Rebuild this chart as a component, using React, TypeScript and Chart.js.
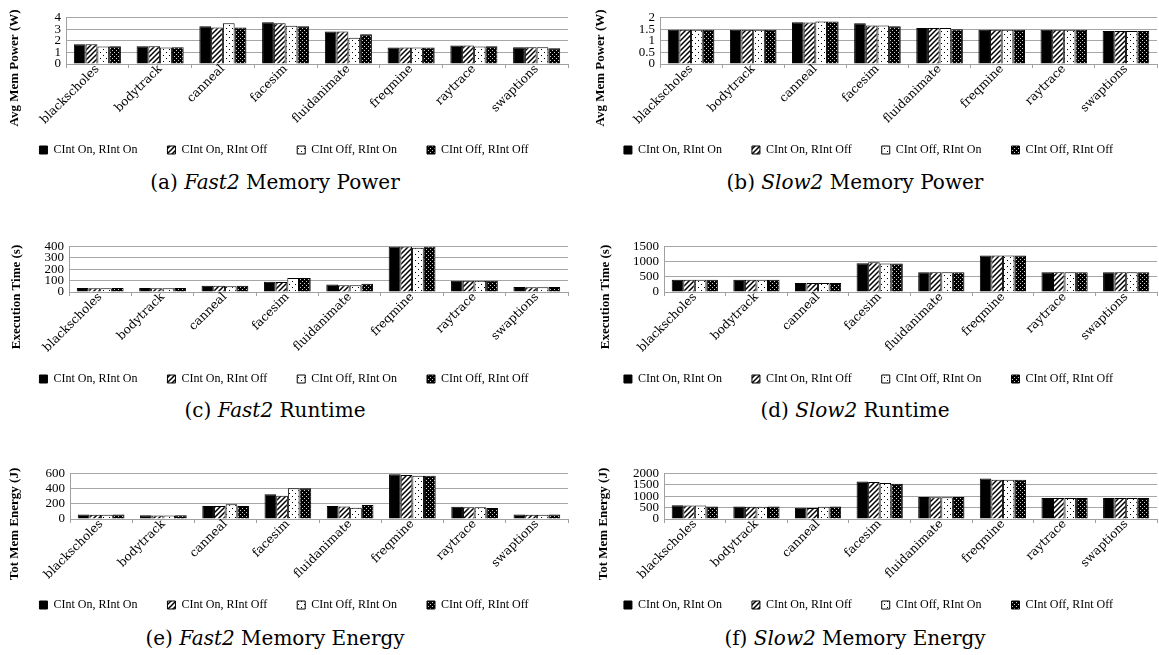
import React, { useEffect, useRef } from "react";
import { Chart, registerables } from "chart.js";
Chart.register(...registerables);

const categories = ["blackscholes", "bodytrack", "canneal", "facesim", "fluidanimate", "freqmine", "raytrace", "swaptions"];
const seriesLabels = ["CInt On, RInt On", "CInt On, RInt Off", "CInt Off, RInt On", "CInt Off, RInt Off"];

// (a) Fast2 Memory Power (W)
const fast2PowerOnOn = [1.7, 1.52, 3.25, 3.6, 2.8, 1.42, 1.6, 1.45];
const fast2PowerOnOff = [1.7, 1.52, 3.15, 3.5, 2.8, 1.42, 1.6, 1.45];
const fast2PowerOffOn = [1.5, 1.42, 3.5, 3.3, 2.25, 1.42, 1.5, 1.45];
const fast2PowerOffOff = [1.52, 1.44, 3.15, 3.25, 2.55, 1.42, 1.52, 1.35];

// (b) Slow2 Memory Power (W)
const slow2PowerOnOn = [1.47, 1.47, 1.8, 1.75, 1.55, 1.47, 1.47, 1.42];
const slow2PowerOnOff = [1.47, 1.47, 1.78, 1.66, 1.55, 1.47, 1.47, 1.42];
const slow2PowerOffOn = [1.47, 1.47, 1.83, 1.66, 1.55, 1.47, 1.47, 1.42];
const slow2PowerOffOff = [1.47, 1.47, 1.83, 1.62, 1.5, 1.47, 1.47, 1.42];

// (c) Fast2 Runtime (s)
const fast2TimeOnOn = [36, 36, 55, 90, 65, 400, 100, 45];
const fast2TimeOnOff = [34, 32, 55, 88, 60, 400, 98, 42];
const fast2TimeOffOn = [34, 32, 50, 122, 60, 390, 98, 42];
const fast2TimeOffOff = [36, 36, 55, 122, 72, 400, 98, 45];

// (d) Slow2 Runtime (s)
const slow2TimeOnOn = [400, 400, 300, 950, 650, 1200, 650, 650];
const slow2TimeOnOff = [400, 400, 300, 980, 650, 1200, 650, 650];
const slow2TimeOffOn = [400, 400, 300, 940, 650, 1200, 650, 650];
const slow2TimeOffOff = [400, 400, 300, 940, 650, 1200, 650, 650];

// (e) Fast2 Memory Energy (J)
const fast2EnergyOnOn = [60, 50, 170, 325, 170, 590, 160, 60];
const fast2EnergyOnOff = [55, 45, 170, 305, 165, 580, 155, 55];
const fast2EnergyOffOn = [55, 45, 195, 405, 150, 570, 155, 55];
const fast2EnergyOffOff = [60, 48, 170, 405, 185, 570, 145, 60];

// (f) Slow2 Memory Energy (J)
const slow2EnergyOnOn = [600, 550, 500, 1650, 970, 1780, 920, 920];
const slow2EnergyOnOff = [590, 540, 480, 1630, 960, 1730, 920, 920];
const slow2EnergyOffOn = [590, 540, 540, 1580, 960, 1730, 920, 920];
const slow2EnergyOffOff = [550, 550, 550, 1550, 970, 1730, 920, 920];

const yTitles = ["Avg Mem Power (W)", "Avg Mem Power (W)", "Execution Time (s)", "Execution Time (s)", "Tot Mem Energy (J)", "Tot Mem Energy (J)"];
const yMaxes = [4, 2, 400, 1500, 600, 2000];
const ySteps = [1, 0.5, 100, 500, 200, 500];
const captionLetters = ["(a)", "(b)", "(c)", "(d)", "(e)", "(f)"];
const captionConfigs = ["Fast2", "Slow2", "Fast2", "Slow2", "Fast2", "Slow2"];
const captionMetrics = ["Memory Power", "Memory Power", "Runtime", "Runtime", "Memory Energy", "Memory Energy"];

const chartSeries = [
  [fast2PowerOnOn, fast2PowerOnOff, fast2PowerOffOn, fast2PowerOffOff],
  [slow2PowerOnOn, slow2PowerOnOff, slow2PowerOffOn, slow2PowerOffOff],
  [fast2TimeOnOn, fast2TimeOnOff, fast2TimeOffOn, fast2TimeOffOff],
  [slow2TimeOnOn, slow2TimeOnOff, slow2TimeOffOn, slow2TimeOffOff],
  [fast2EnergyOnOn, fast2EnergyOnOff, fast2EnergyOffOn, fast2EnergyOffOff],
  [slow2EnergyOnOn, slow2EnergyOnOff, slow2EnergyOffOn, slow2EnergyOffOff],
];

// layout (pixels)
const colLeft = [0, 580];
const colWidth = [580, 579];
const plotLefts = [66, 660, 69, 664, 70, 664];
const plotRightsAbs = [568, 1157];
const rowPlotTop = [14, 243, 470];
const rowPlotBottom = [64, 292, 519];
const rowLegendCenter = [150, 379, 605];
const rowCaptionCenter = [182, 410, 638];
const yTitleX = [15, 601, 17, 606, 15, 604];

const SERIF = "'Liberation Serif', 'DejaVu Serif', serif";
const WIDE_SERIF = "'DejaVu Serif', 'Liberation Serif', serif";

function makePattern(kind: number): CanvasPattern | string {
  if (kind === 0) return "#000000";
  const c = document.createElement("canvas");
  const ctx = c.getContext("2d")!;
  if (kind === 1) {
    const s = 5;
    c.width = s; c.height = s;
    ctx.fillStyle = "#ffffff"; ctx.fillRect(0, 0, s, s);
    ctx.strokeStyle = "#000000"; ctx.lineWidth = 1.5;
    ctx.beginPath();
    ctx.moveTo(-1, s + 1); ctx.lineTo(s + 1, -1);
    ctx.moveTo(-1, 1); ctx.lineTo(1, -1);
    ctx.moveTo(s - 1, s + 1); ctx.lineTo(s + 1, s - 1);
    ctx.stroke();
  } else if (kind === 2) {
    c.width = 6; c.height = 6;
    ctx.fillStyle = "#ffffff"; ctx.fillRect(0, 0, 6, 6);
    ctx.fillStyle = "#000000";
    ctx.fillRect(1, 1, 1, 1);
    ctx.fillRect(4, 4, 1, 1);
  } else {
    c.width = 4; c.height = 4;
    ctx.fillStyle = "#000000"; ctx.fillRect(0, 0, 4, 4);
    ctx.fillStyle = "#cfcfcf";
    ctx.fillRect(0, 0, 1, 1);
    ctx.fillRect(2, 2, 1, 1);
  }
  return ctx.createPattern(c, "repeat")!;
}

const yTitlePlugin = {
  id: "yTitleCustom",
  afterDraw(chart: any, _args: any, opts: any) {
    const ctx = chart.ctx;
    ctx.save();
    ctx.translate(opts.x, opts.y);
    ctx.rotate(-Math.PI / 2);
    ctx.font = "bold 13px " + SERIF;
    ctx.fillStyle = "#000";
    ctx.textAlign = "center";
    ctx.textBaseline = "middle";
    ctx.fillText(opts.text, 0, 0);
    ctx.restore();
  },
};

function Panel({ idx }: { idx: number }) {
  const ref = useRef<HTMLCanvasElement | null>(null);
  const col = idx % 2;
  const row = Math.floor(idx / 2);
  const L = colLeft[col];
  const W = colWidth[col];
  const padTop = 8;
  const T = rowPlotTop[row] - padTop;
  const legendPad = 30;
  const legendFont = 12;
  const legendBottom = rowLegendCenter[row] + legendFont / 2 + 10;
  const H = legendBottom - T;
  const xH = rowLegendCenter[row] - legendFont / 2 - legendPad - rowPlotBottom[row];
  const yW = plotLefts[idx] - L;
  const padRight = L + W - plotRightsAbs[col];

  useEffect(() => {
    if (!ref.current) return;
    const patterns = [0, 1, 2, 3].map((k) => makePattern(k));
    const chart = new Chart(ref.current, {
      type: "bar",
      data: {
        labels: categories,
        datasets: seriesLabels.map((label, i) => ({
          label,
          data: chartSeries[idx][i],
          backgroundColor: patterns[i] as any,
          borderColor: "#000000",
          borderWidth: 1,
          categoryPercentage: 0.75,
          barPercentage: 1.0,
        })),
      },
      options: {
        animation: false,
        responsive: false,
        maintainAspectRatio: false,
        layout: { padding: { top: padTop, right: padRight, left: 0, bottom: 0 } },
        plugins: {
          legend: {
            position: "bottom",
            labels: {
              boxWidth: 8,
              boxHeight: 8,
              padding: legendPad,
              color: "#000",
              font: { family: SERIF, size: legendFont },
            },
          },
          tooltip: { enabled: false },
          yTitleCustom: { text: yTitles[idx], x: yTitleX[idx] - L, y: rowPlotTop[row] + 54 - T },
        } as any,
        scales: {
          x: {
            grid: { display: true, drawOnChartArea: false, drawTicks: true, tickLength: 4, color: "#a0a0a0", offset: true },
            border: { color: "#a0a0a0" },
            ticks: { maxRotation: 45, minRotation: 45, autoSkip: false, color: "#000", padding: -6, font: { family: WIDE_SERIF, size: 12, lineHeight: 1.2 } },
            afterFit: (s: any) => {
              s.height = xH;
              // let the rotated labels overflow the (fixed) axis box instead of being clipped
              s._computeLabelArea = () => undefined;
            },
          },
          y: {
            min: 0,
            max: yMaxes[idx],
            ticks: { stepSize: ySteps[idx], autoSkip: false, color: "#000", padding: 5, font: { family: SERIF, size: 13, lineHeight: 1 }, callback: (v: any) => String(v) },
            grid: { color: "#a6a6a6", drawTicks: false },
            border: { display: true, color: "#a0a0a0" },
            afterFit: (s: any) => { s.width = yW; },
          },
        },
      },
      plugins: [yTitlePlugin],
    });
    return () => chart.destroy();
  }, []);

  return (
    <>
      <canvas
        ref={ref}
        width={W}
        height={H}
        style={{ position: "absolute", left: L, top: T, width: W, height: H }}
      />
      <div
        style={{
          position: "absolute",
          left: L,
          width: 550,
          top: rowCaptionCenter[row] - 12,
          height: 24,
          lineHeight: "24px",
          textAlign: "center",
          fontFamily: "'DejaVu Serif', serif",
          fontSize: 20,
          color: "#000",
          whiteSpace: "nowrap",
        }}
      >
        {captionLetters[idx]} <i>{captionConfigs[idx]}</i> {captionMetrics[idx]}
      </div>
    </>
  );
}

export default function App() {
  return (
    <div style={{ position: "absolute", left: 0, top: 0, width: 1159, height: 655, overflow: "hidden", background: "#fff" }}>
      {[0, 1, 2, 3, 4, 5].map((i) => (
        <Panel key={i} idx={i} />
      ))}
    </div>
  );
}
